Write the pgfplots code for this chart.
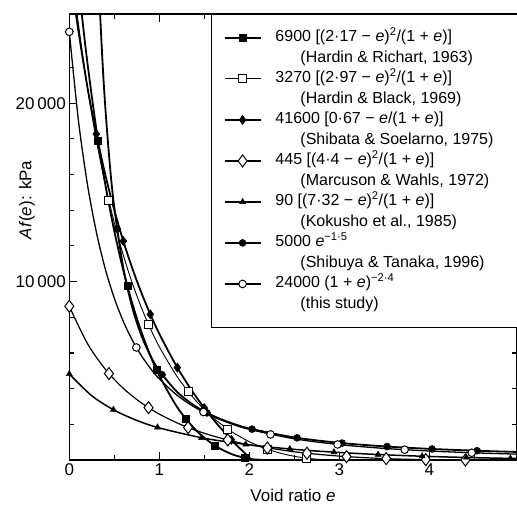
\documentclass[border=0pt]{standalone}
\usepackage{fontspec}
\setmainfont{Liberation Sans}
\usepackage{pgfplots}
\pgfplotsset{compat=1.18}
\begin{document}
\begin{tikzpicture}
\useasboundingbox (-69.3pt,-51pt) rectangle (447.7pt,460pt);
\begin{axis}[
  scale only axis, width=447.4pt, height=446pt,
  xmin=0, xmax=4.97, ymin=0, ymax=25000,
  xtick={0,1,2,3,4}, minor xtick={0.5,1.5,2.5,3.5,4.5},
  ytick={10000,20000}, yticklabels={\mbox{10\,000},\mbox{20\,000}},
  minor ytick={2000,4000,6000,8000,12000,14000,16000,18000,22000,24000},
  scaled y ticks=false,
  tick align=inside, major tick length=8pt, minor tick length=5pt,
  every tick/.style={black, line width=1.1pt},
  axis line style={line width=1.4pt},
  /pgf/number format/assume math mode=true,
  ticklabel style={font=\fontsize{17}{20}\selectfont},
  xlabel={Void ratio \textit{e}},
  ylabel={\textit{Af}(\textit{e}): kPa},
  label style={font=\fontsize{17}{20}\selectfont},
  xlabel style={at={(axis description cs:0.5,0)}, anchor=base, yshift=-42pt},
  ylabel style={at={(axis description cs:-0.0945,0.583)}, anchor=center},
  clip marker paths=false,
  legend style={at={(axis cs:1.574,25000)}, anchor=north west, draw=black, line width=1.4pt, fill=white,
    inner xsep=12pt, inner ysep=15pt, font=\fontsize{16}{19}\selectfont, row sep=4pt, column sep=14pt,
    nodes={inner sep=0pt, text height=12pt, text depth=4.5pt}},
  legend cell align=left,
  legend image code/.code={\draw[mark repeat=2,mark phase=2] plot coordinates {(0pt,0pt) (18pt,0pt) (36pt,0pt)};},
]
% Hardin & Richart
\addplot[line width=1.8pt, smooth, forget plot] coordinates {(0.1,26878) (0.15,24482) (0.2,22315) (0.3,18560) (0.4,15441) (0.5,12829) (0.6,10630) (0.7,8771) (0.8,7195) (0.9,5857) (1.0,4723) (1.2,2951) (1.4,1705) (1.6,862) (1.8,337) (2.0,66) (2.17,0)};
% Hardin & Black
\addplot[line width=0.9pt, smooth, forget plot] coordinates {(0.05,26554) (0.1,24486) (0.2,20909) (0.3,17932) (0.4,15427) (0.5,13300) (0.6,11480) (0.7,9912) (0.8,8555) (0.9,7374) (1.0,6345) (1.2,4657) (1.4,3358) (1.6,2361) (1.8,1599) (2.0,1026) (2.2,606) (2.4,312) (2.6,124) (2.8,25) (2.97,0)};
% Shibata & Soelarno
\addplot[line width=1.8pt, smooth, forget plot] coordinates {(0.05,25891) (0.1,24090) (0.2,20939) (0.3,18272) (0.4,15986) (0.5,14005) (0.6,12272) (0.7,10743) (0.8,9383) (0.9,8167) (1.0,7072) (1.2,5181) (1.4,3605) (1.6,2272) (1.8,1129) (2.0,139) (2.03,0)};
% Marcuson & Wahls
\addplot[line width=1.2pt, smooth, forget plot] coordinates {(0,8615) (0.2,6542) (0.4,5086) (0.6,4016) (0.8,3204) (1.0,2572) (1.25,1962) (1.5,1497) (1.75,1136) (2.0,854) (2.5,459) (3.0,218) (3.5,80) (4.0,14) (4.4,0)};
% Kokusho
\addplot[line width=1.5pt, smooth, forget plot] coordinates {(0,4822) (0.25,3599) (0.5,2791) (0.75,2220) (1.0,1797) (1.5,1219) (2.0,849) (2.5,597) (3.0,420) (3.5,292) (4.0,198) (4.5,130) (4.97,83)};
% Shibuya & Tanaka
\addplot[line width=1.8pt, smooth, forget plot] coordinates {(0.34,25220) (0.37,22216) (0.4,19764) (0.45,16563) (0.5,14142) (0.6,10758) (0.7,8537) (0.8,6988) (0.9,5856) (1.0,5000) (1.2,3804) (1.4,3018) (1.6,2471) (1.8,2070) (2.0,1768) (2.5,1265) (3.0,962) (3.5,764) (4.0,625) (4.5,524) (4.97,451)};
% this study
\addplot[line width=1.3pt, smooth, forget plot] coordinates {(0,24000) (0.1,19093) (0.2,15495) (0.3,12787) (0.4,10703) (0.5,9069) (0.6,7768) (0.7,6717) (0.8,5856) (0.9,5143) (1.0,4547) (1.2,3618) (1.4,2936) (1.6,2422) (1.8,2028) (2.0,1718) (2.5,1187) (3.0,862) (3.5,649) (4.0,504) (4.5,401) (4.97,330)};
% markers
\addplot[only marks, mark=square*, mark size=3.5pt, mark options={fill=black, line width=0.6pt}, forget plot] coordinates {(0.32,17890) (0.645,9755) (0.97,5044) (1.295,2302) (1.62,797) (1.945,119)};
\addplot[only marks, mark=square*, mark size=4pt, mark options={fill=white, line width=1pt}, forget plot] coordinates {(0.44,14536) (0.88,7598) (1.32,3837) (1.76,1735) (2.2,606) (2.64,98)};
\addplot[only marks, mark=diamond*, mark size=4.5pt, mark options={fill=black, line width=0.6pt}, forget plot] coordinates {(0.3,18272) (0.6,12272) (0.9,8167) (1.2,5181) (1.5,2912) (1.8,1129)};
\addplot[only marks, mark=diamond*, mark size=6pt, mark options={fill=white, line width=1pt}, forget plot] coordinates {(0,8615) (0.44,4846) (0.88,2933) (1.32,1820) (1.76,1124) (2.2,673) (2.64,379) (3.08,190) (3.52,76) (3.96,17) (4.4,0)};
\addplot[only marks, mark=triangle*, mark size=3.5pt, mark options={fill=black, line width=0.5pt}, forget plot] coordinates {(0,4822) (0.49,2818) (0.98,1827) (1.47,1247) (1.96,874) (2.45,619) (2.94,438) (3.43,307) (3.92,211) (4.41,141) (4.9,89)};
\addplot[only marks, mark=*, mark size=3.5pt, mark options={fill=black, line width=0.5pt}, forget plot] coordinates {(0.53,12958) (1.03,4783) (1.53,2642) (2.03,1729) (2.53,1242) (3.03,948) (3.53,754) (4.03,618) (4.53,519)};
\addplot[only marks, mark=*, mark size=3.8pt, mark options={fill=white, line width=1pt}, forget plot] coordinates {(0,24000) (0.745,6308) (1.49,2687) (2.235,1434) (2.98,872) (3.725,578) (4.47,406)};
% legend
\addlegendimage{line width=1.8pt, mark=square*, mark size=3.5pt, mark options={fill=black, line width=0.6pt}}
\addlegendentry{\makebox[231pt][l]{6900 [(2·17 − \textit{e})\textsuperscript{2}/(1 + \textit{e})]}}
\addlegendimage{empty legend}
\addlegendentry{\makebox[231pt][l]{\hspace{25pt}(Hardin \& Richart, 1963)}}
\addlegendimage{line width=0.9pt, mark=square*, mark size=4pt, mark options={fill=white, line width=1pt}}
\addlegendentry{\makebox[231pt][l]{3270 [(2·97 − \textit{e})\textsuperscript{2}/(1 + \textit{e})]}}
\addlegendimage{empty legend}
\addlegendentry{\makebox[231pt][l]{\hspace{25pt}(Hardin \& Black, 1969)}}
\addlegendimage{line width=1.8pt, mark=diamond*, mark size=4.5pt, mark options={fill=black, line width=0.6pt}}
\addlegendentry{\makebox[231pt][l]{41600 [0·67 − \textit{e}/(1 + \textit{e})]}}
\addlegendimage{empty legend}
\addlegendentry{\makebox[231pt][l]{\hspace{25pt}(Shibata \& Soelarno, 1975)}}
\addlegendimage{line width=1.2pt, mark=diamond*, mark size=6pt, mark options={fill=white, line width=1pt}}
\addlegendentry{\makebox[231pt][l]{445 [(4·4 − \textit{e})\textsuperscript{2}/(1 + \textit{e})]}}
\addlegendimage{empty legend}
\addlegendentry{\makebox[231pt][l]{\hspace{25pt}(Marcuson \& Wahls, 1972)}}
\addlegendimage{line width=1.5pt, mark=triangle*, mark size=3.5pt, mark options={fill=black, line width=0.5pt}}
\addlegendentry{\makebox[231pt][l]{90 [(7·32 − \textit{e})\textsuperscript{2}/(1 + \textit{e})]}}
\addlegendimage{empty legend}
\addlegendentry{\makebox[231pt][l]{\hspace{25pt}(Kokusho et al., 1985)}}
\addlegendimage{line width=1.8pt, mark=*, mark size=3.5pt, mark options={fill=black, line width=0.5pt}}
\addlegendentry{\makebox[231pt][l]{5000 \textit{e}\textsuperscript{−1·5}}}
\addlegendimage{empty legend}
\addlegendentry{\makebox[231pt][l]{\hspace{25pt}(Shibuya \& Tanaka, 1996)}}
\addlegendimage{line width=1.3pt, mark=*, mark size=3.8pt, mark options={fill=white, line width=1pt}}
\addlegendentry{\makebox[231pt][l]{24000 (1 + \textit{e})\textsuperscript{−2·4}}}
\addlegendimage{empty legend}
\addlegendentry{\makebox[231pt][l]{\hspace{25pt}(this study)}}
\end{axis}
\end{tikzpicture}
\end{document}
